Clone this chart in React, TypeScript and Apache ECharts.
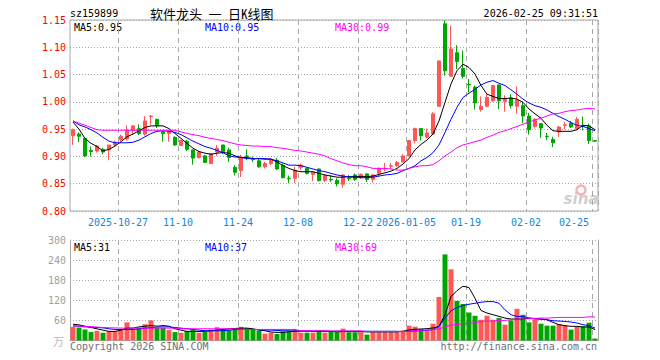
import React, { useEffect, useRef } from 'react';
import * as echarts from 'echarts';

// ---------- data ----------
const dates = [
  '2025-10-15','2025-10-16','2025-10-17','2025-10-20','2025-10-21','2025-10-22','2025-10-23','2025-10-24','2025-10-27','2025-10-28',
  '2025-10-29','2025-10-30','2025-10-31','2025-11-03','2025-11-04','2025-11-05','2025-11-06','2025-11-07','2025-11-10','2025-11-11',
  '2025-11-12','2025-11-13','2025-11-14','2025-11-17','2025-11-18','2025-11-19','2025-11-20','2025-11-21','2025-11-24','2025-11-25',
  '2025-11-26','2025-11-27','2025-11-28','2025-12-01','2025-12-02','2025-12-03','2025-12-04','2025-12-05','2025-12-08','2025-12-09',
  '2025-12-10','2025-12-11','2025-12-12','2025-12-15','2025-12-16','2025-12-17','2025-12-18','2025-12-19','2025-12-22','2025-12-23',
  '2025-12-24','2025-12-25','2025-12-26','2025-12-29','2025-12-30','2025-12-31','2026-01-05','2026-01-06','2026-01-07','2026-01-08',
  '2026-01-09','2026-01-12','2026-01-13','2026-01-14','2026-01-15','2026-01-16','2026-01-19','2026-01-20','2026-01-21','2026-01-22',
  '2026-01-23','2026-01-26','2026-01-27','2026-01-28','2026-01-29','2026-01-30','2026-02-02','2026-02-03','2026-02-04','2026-02-05',
  '2026-02-06','2026-02-09','2026-02-10','2026-02-11','2026-02-12','2026-02-13','2026-02-24','2026-02-25',
];

const openP = [
  0.938,0.941,0.933,0.911,0.910,0.913,0.912,0.921,0.931,0.932,
  0.948,0.951,0.941,0.973,0.968,0.945,0.942,0.935,0.920,0.928,
  0.912,0.898,0.901,0.887,0.908,0.921,0.912,0.880,0.874,0.901,
  0.895,0.892,0.881,0.887,0.893,0.884,0.860,0.860,0.880,0.878,
  0.867,0.877,0.856,0.858,0.856,0.849,0.860,0.866,0.861,0.868,
  0.858,0.869,0.877,0.882,0.883,0.890,0.901,0.929,0.951,0.935,
  0.941,0.992,1.143,1.047,1.090,1.061,1.032,1.027,0.986,0.992,
  1.002,1.031,1.001,1.007,0.992,0.993,0.974,0.955,0.960,0.937,
  0.931,0.945,0.957,0.961,0.951,0.957,0.956,0.929,
];
const closeP = [
  0.949,0.937,0.901,0.909,0.919,0.908,0.921,0.926,0.937,0.948,
  0.956,0.942,0.965,0.974,0.956,0.942,0.945,0.921,0.929,0.913,
  0.897,0.908,0.889,0.905,0.915,0.909,0.898,0.871,0.899,0.900,
  0.894,0.881,0.887,0.893,0.877,0.861,0.859,0.875,0.884,0.869,
  0.871,0.856,0.865,0.857,0.850,0.866,0.859,0.858,0.867,0.858,
  0.866,0.878,0.878,0.883,0.889,0.901,0.929,0.951,0.938,0.943,
  0.978,1.075,1.057,1.097,1.074,1.047,1.031,0.998,0.992,1.008,
  1.030,1.002,1.005,0.993,1.003,0.974,0.949,0.968,0.952,0.936,
  0.925,0.954,0.958,0.954,0.968,0.955,0.929,0.928,
];
const lowP = [
  0.921,0.926,0.899,0.900,0.907,0.904,0.893,0.918,0.928,0.929,
  0.940,0.939,0.938,0.958,0.952,0.927,0.927,0.919,0.919,0.910,
  0.885,0.896,0.888,0.886,0.901,0.904,0.890,0.865,0.862,0.893,
  0.890,0.879,0.878,0.884,0.875,0.860,0.851,0.851,0.875,0.867,
  0.855,0.854,0.853,0.853,0.845,0.843,0.855,0.855,0.859,0.853,
  0.852,0.863,0.873,0.877,0.881,0.889,0.900,0.924,0.929,0.933,
  0.940,0.991,1.048,1.047,1.060,1.043,1.017,0.986,0.982,0.990,
  1.000,0.987,0.982,0.988,0.978,0.961,0.940,0.951,0.934,0.930,
  0.917,0.936,0.950,0.952,0.949,0.948,0.923,0.927,
];
const highP = [
  0.951,0.944,0.935,0.918,0.921,0.916,0.921,0.929,0.940,0.957,
  0.957,0.959,0.974,0.976,0.969,0.947,0.948,0.937,0.931,0.930,
  0.912,0.910,0.903,0.906,0.921,0.921,0.916,0.884,0.903,0.913,
  0.900,0.897,0.890,0.897,0.897,0.887,0.865,0.881,0.887,0.879,
  0.872,0.878,0.867,0.866,0.860,0.868,0.866,0.869,0.869,0.869,
  0.868,0.880,0.888,0.888,0.892,0.904,0.929,0.953,0.951,0.951,
  0.981,1.075,1.149,1.140,1.104,1.094,1.042,1.030,1.010,1.014,
  1.031,1.031,1.012,1.014,1.028,1.000,0.980,0.970,0.961,0.943,
  0.936,0.956,0.963,0.965,0.972,0.973,0.960,0.930,
];

const ma5 = [
  0.963,0.950,0.933,0.924,0.918,0.910,0.913,0.919,0.927,0.936,
  0.941,0.947,0.953,0.956,0.956,0.956,0.951,0.942,0.933,0.924,
  0.915,0.909,0.906,0.904,0.906,0.907,0.906,0.901,0.898,0.898,
  0.896,0.896,0.895,0.895,0.890,0.883,0.878,0.874,0.872,0.872,
  0.872,0.869,0.866,0.864,0.862,0.862,0.863,0.863,0.863,0.863,
  0.864,0.867,0.870,0.873,0.878,0.886,0.896,0.912,0.922,0.930,
  0.941,0.965,0.999,1.033,1.057,1.069,1.063,1.051,1.030,1.014,
  1.010,1.006,1.006,1.007,1.005,0.999,0.987,0.978,0.970,0.957,
  0.947,0.946,0.946,0.946,0.949,0.957,0.956,0.949,
];
const ma10 = [
  0.965,0.958,0.954,0.949,0.943,0.935,0.928,0.925,0.925,0.925,
  0.926,0.930,0.936,0.942,0.946,0.947,0.946,0.944,0.940,0.934,
  0.928,0.923,0.918,0.915,0.911,0.907,0.901,0.899,0.898,0.896,
  0.896,0.896,0.896,0.895,0.892,0.888,0.884,0.884,0.883,0.880,
  0.877,0.874,0.872,0.869,0.866,0.864,0.862,0.862,0.861,0.861,
  0.862,0.864,0.866,0.867,0.869,0.874,0.878,0.883,0.892,0.898,
  0.907,0.921,0.944,0.968,0.990,1.008,1.016,1.023,1.031,1.036,
  1.039,1.034,1.030,1.022,1.014,1.005,0.998,0.993,0.990,0.985,
  0.979,0.973,0.968,0.962,0.957,0.955,0.951,0.947,
];
const ma30 = [
  0.965,0.961,0.957,0.953,0.949,0.948,0.948,0.948,0.948,0.948,
  0.948,0.948,0.948,0.948,0.948,0.948,0.948,0.948,0.945,0.942,
  0.940,0.938,0.935,0.933,0.931,0.929,0.926,0.923,0.921,0.920,
  0.919,0.919,0.918,0.918,0.916,0.915,0.913,0.911,0.910,0.908,
  0.906,0.904,0.901,0.896,0.892,0.888,0.885,0.883,0.883,0.881,
  0.878,0.878,0.878,0.877,0.875,0.875,0.878,0.881,0.883,0.883,
  0.885,0.892,0.901,0.908,0.916,0.921,0.924,0.927,0.930,0.935,
  0.939,0.944,0.947,0.951,0.955,0.959,0.963,0.967,0.970,0.974,
  0.978,0.979,0.982,0.984,0.985,0.987,0.988,0.987,
];

const volume = [
  40.7,38.7,32.9,25.2,29,23.2,27.1,28,33.9,54.2,
  32.9,37.8,48.4,60,37.8,37.8,31,25.2,23.2,28,
  31,23.2,25.2,32.9,39.7,31,31,36.8,40.7,36.8,
  32.9,29,20.3,23.2,19.4,27.1,27.1,31,23.2,23.2,
  23.2,29,23.2,25.5,24.6,35.4,24.6,24.6,24.6,17.7,
  24.6,24.6,24.6,24.6,24.6,29.5,44.3,41.3,34.4,29.5,
  50.2,130,257,212.5,118,109,83.6,73.8,62,73.8,
  62,67,47.2,60,94.5,76.8,54.1,62,50.2,44.3,
  44.3,49.2,44.3,32.5,40.3,42.3,53.1,5.9,
];
const volMa5 = [
  48.5,46.6,42.7,38.8,34.9,31,27.2,27.2,31,36.9,
  36.9,40.7,42.7,44.6,42.7,44.6,42.7,34.9,31,27.2,
  27.2,27.2,27.2,29.1,31,33,34.9,35.9,36.9,36.9,
  34.9,31,29.1,25.2,24.2,24.2,26.2,28.1,28.1,28.1,
  27.2,28.1,28.1,27.2,25.6,26.6,26.6,26.6,26.6,25.6,
  25.6,25.6,25.6,25.6,25.6,27.6,31.5,33.5,34.4,35.4,
  37.4,42,77,131,149,162,158,126,89.5,82,
  77,72,66.9,64,64,64,66.9,65.9,64,62,
  54.1,47.2,44.3,42.3,42.3,40.3,40.3,32.5,
];
const volMa10 = [
  43.6,42.7,40.7,40.7,38.8,37.8,34.9,33,33,33,
  33,34.9,36.9,38.8,39.8,40.7,40.7,38.8,36.9,34.9,
  33,31,29.1,29.1,29.1,29.1,31,33,33,33,
  33,32,31,31,30,29.1,29.1,28.1,28.1,28.1,
  28.1,27.2,27.2,27.2,27.6,27.6,27.6,27.6,27.6,27.6,
  27.6,27.6,27.6,27.6,27.6,26.6,27.6,28.5,29.5,30.5,
  32.5,42.3,66.9,88.6,98.4,104.3,108.2,111.2,114.1,116.1,
  116.1,111.2,91.5,76.8,71.8,71.8,66.9,64,64,62,
  59,58,57,55.1,52.2,47.2,44.3,37,
];
const volMa30 = [
  44,43,42,41,40,39,38,37.5,37,37,
  37,37,37,37,37,37,37,37,35,35,
  35,35,35,35,35,35,35,35,33,33,
  33,33,33,33,33,33,33,33,29,29,
  29,29,29,28.5,28.5,28.5,28.5,28.5,28.5,26.6,
  26.6,26.6,26.6,26.6,26.6,26.6,27.6,29.5,30.5,31.5,
  32.5,34.4,40.3,46.2,47.2,50.2,51.2,53.1,57,58,
  58,60,60,62,64,64,64.9,65.9,66.9,66.9,
  67.9,68.9,68.9,68.9,68.9,68.9,70.8,69.9,
];

const tickIndex = [8, 18, 28, 38, 48, 56, 66, 76, 87];
const tickText = ['2025-10-27', '11-10', '11-24', '12-08', '12-22', '2026-01-05', '01-19', '02-02', '02-25'];

const priceLegend = ['MA5:0.95', 'MA10:0.95', 'MA30:0.99'];
const volLegend = ['MA5:31', 'MA10:37', 'MA30:69'];
const symbolText = 'sz159899';
const titleText = '软件龙头 一 日K线图';
const timeText = '2026-02-25 09:31:51';

// ---------- styles ----------
const UP = '#ff5656';
const DOWN = '#00a600';
const MONO = '"DejaVu Sans Mono", "Liberation Mono", monospace';
const GRID_C = '#a8a8a8';
const MA_COLORS = ['#000000', '#0000ff', '#ff00ff'];

const isTick = (i: number) => tickIndex.indexOf(i) >= 0;

function txt(text: string, x: number, y: number, fill: string, font: string, align = 'left') {
  return {
    type: 'text',
    x,
    y,
    silent: true,
    style: { text, fill, font, textAlign: align, align, textVerticalAlign: 'middle', verticalAlign: 'middle' },
  };
}

export default function App() {
  const ref = useRef<HTMLDivElement>(null);

  useEffect(() => {
    if (!ref.current) return;
    const chart = echarts.init(ref.current, undefined, { renderer: 'svg' });

    const candleData = openP.map((o, i) => [o, closeP[i], lowP[i], highP[i]]);
    const volData = volume.map((v, i) => ({
      value: v,
      itemStyle: { color: closeP[i] >= openP[i] ? UP : DOWN },
    }));

    const vSplit = {
      show: true,
      interval: (i: number) => isTick(i),
      lineStyle: { color: GRID_C, type: [5, 4], width: 1 },
    };

    const mk = (name: string, data: number[], color: string, xi: number, yi: number) => ({
      name,
      type: 'line',
      xAxisIndex: xi,
      yAxisIndex: yi,
      data,
      showSymbol: false,
      symbol: 'none',
      smooth: false,
      lineStyle: { color, width: 1 },
      itemStyle: { color },
      z: 5,
    });

    const option: any = {
      animation: false,
      backgroundColor: '#ffffff',
      grid: [
        { left: 70, top: 20, width: 528, height: 191, show: true, borderColor: GRID_C, borderWidth: 1, backgroundColor: 'transparent' },
        { left: 70, top: 240, width: 528, height: 100.5 },
      ],
      xAxis: [
        {
          type: 'category',
          gridIndex: 0,
          data: dates,
          boundaryGap: true,
          axisLine: { show: false },
          axisTick: { show: false },
          axisLabel: {
            interval: (i: number) => isTick(i),
            formatter: (_v: string, i: number) => {
              const k = tickIndex.indexOf(i);
              return k >= 0 ? tickText[k] : '';
            },
            color: '#1585d8',
            fontFamily: MONO,
            fontSize: 10,
            margin: 6,
            padding: [0, 6, 0, 0],
            alignMaxLabel: 'right',
          },
          splitLine: vSplit,
        },
        {
          type: 'category',
          gridIndex: 1,
          data: dates,
          position: 'top',
          boundaryGap: true,
          axisLine: { show: true, lineStyle: { color: GRID_C, width: 1 } },
          axisTick: { show: false },
          axisLabel: { show: false },
          splitLine: vSplit,
        },
      ],
      yAxis: [
        {
          type: 'value',
          gridIndex: 0,
          min: 0.8,
          max: 1.15,
          interval: 0.05,
          axisLine: { show: false },
          axisTick: { show: false },
          axisLabel: {
            color: '#ff0000',
            fontFamily: MONO,
            fontSize: 10,
            margin: 4,
            formatter: (v: number) => v.toFixed(2),
          },
          splitLine: { show: true, lineStyle: { color: GRID_C, type: [1, 2], width: 1 } },
        },
        {
          type: 'value',
          gridIndex: 1,
          min: 0,
          max: 300,
          interval: 60,
          axisLine: { show: true, lineStyle: { color: GRID_C, width: 1 } },
          axisTick: { show: false },
          axisLabel: {
            color: '#a0a0a0',
            fontFamily: MONO,
            fontSize: 10,
            margin: 4,
            formatter: (v: number) => (v === 0 ? '' : String(v)),
          },
          splitLine: { show: true, showMinLine: false, lineStyle: { color: GRID_C, type: [1, 2], width: 1 } },
        },
        {
          type: 'value',
          gridIndex: 1,
          position: 'right',
          min: 0,
          max: 300,
          interval: 60,
          axisLine: { show: true, lineStyle: { color: GRID_C, width: 1 } },
          axisTick: { show: false },
          axisLabel: { show: false },
          splitLine: { show: false },
        },
      ],
      series: [
        {
          name: 'K',
          type: 'candlestick',
          xAxisIndex: 0,
          yAxisIndex: 0,
          data: candleData,
          barWidth: 4,
          itemStyle: { color: UP, color0: DOWN, borderColor: UP, borderColor0: DOWN, borderWidth: 1 },
          z: 3,
        },
        mk('MA5', ma5, MA_COLORS[0], 0, 0),
        mk('MA10', ma10, MA_COLORS[1], 0, 0),
        mk('MA30', ma30, MA_COLORS[2], 0, 0),
        {
          name: 'VOL',
          type: 'bar',
          xAxisIndex: 1,
          yAxisIndex: 1,
          data: volData,
          barWidth: 5,
          z: 3,
        },
        mk('VMA5', volMa5, MA_COLORS[0], 1, 1),
        mk('VMA10', volMa10, MA_COLORS[1], 1, 1),
        mk('VMA30', volMa30, MA_COLORS[2], 1, 1),
      ],
      graphic: [
        txt(symbolText, 70, 13, '#000000', `10px ${MONO}`),
        txt(titleText, 150, 13, '#000000', '13px "Noto Sans Mono CJK SC", "Noto Sans CJK SC", sans-serif'),
        txt(timeText, 598, 13, '#000000', `10px ${MONO}`, 'right'),
        txt(priceLegend[0], 74, 27, MA_COLORS[0], `10px ${MONO}`),
        txt(priceLegend[1], 205, 27, MA_COLORS[1], `10px ${MONO}`),
        txt(priceLegend[2], 335, 27, MA_COLORS[2], `10px ${MONO}`),
        txt(volLegend[0], 74, 247, MA_COLORS[0], `10px ${MONO}`),
        txt(volLegend[1], 205, 247, MA_COLORS[1], `10px ${MONO}`),
        txt(volLegend[2], 335, 247, MA_COLORS[2], `10px ${MONO}`),
        txt('万', 64, 341, '#b8b8b8', '11px "Noto Sans CJK SC", sans-serif', 'right'),
        txt('Copyright 2026 SINA.COM', 70, 346, '#707070', `10px ${MONO}`),
        txt('http://finance.sina.com.cn', 597, 346, '#707070', `10px ${MONO}`, 'right'),
        {
          type: 'circle',
          silent: true,
          shape: { cx: 581, cy: 190, r: 4.5 },
          style: { fill: 'none', stroke: '#f2b4b4', lineWidth: 2.5 },
          z: 1,
        },
        txt('sina', 581, 199, '#cfcfcf', 'italic bold 15px "DejaVu Sans", sans-serif', 'center'),
      ],
    };

    chart.setOption(option);
    return () => chart.dispose();
  }, []);

  return <div ref={ref} style={{ position: 'fixed', left: 0, top: 0, width: 660, height: 360 }} />;
}
